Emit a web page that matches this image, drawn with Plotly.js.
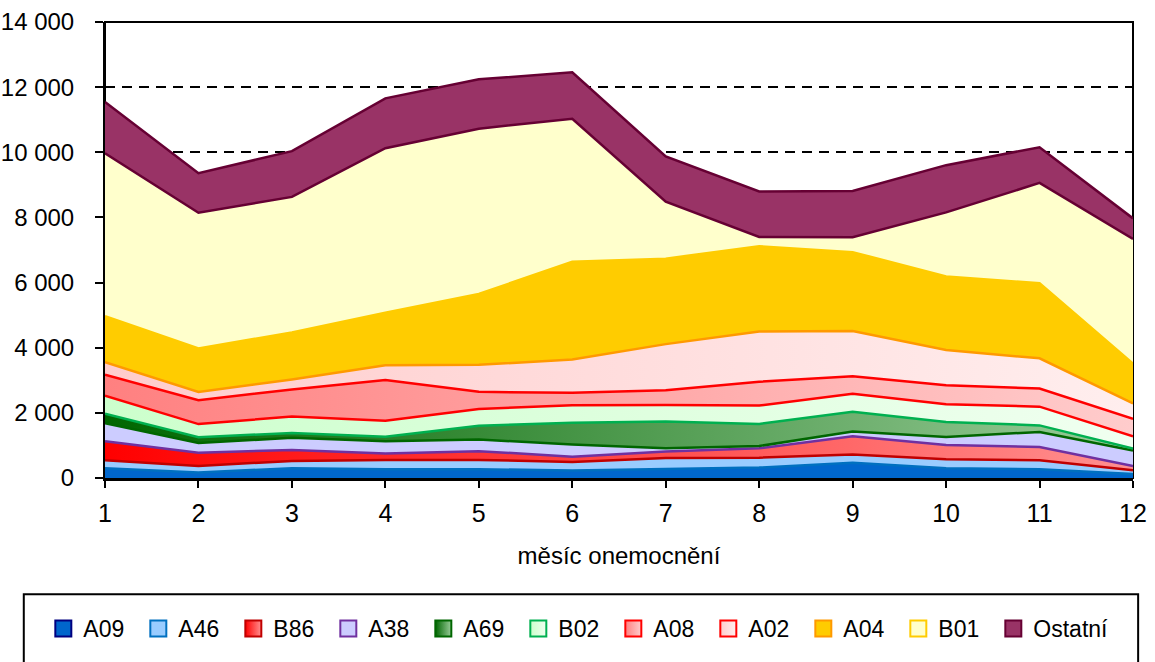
<!DOCTYPE html>
<html>
<head>
<meta charset="utf-8">
<script src="https://cdn.plot.ly/plotly-3.0.1.min.js"></script>
<style>
  html, body { margin: 0; padding: 0; background: #ffffff; }
  #chart { width: 1155px; height: 662px; }
</style>
</head>
<body>
<div id="chart"></div>
<script>
// Months (x axis)
const months = [1, 2, 3, 4, 5, 6, 7, 8, 9, 10, 11, 12];

// Series values (stacked from bottom to top)
const A09 = [300, 170, 300, 270, 270, 230, 280, 320, 470, 300, 270, 120];
const A46 = [245, 200, 225, 285, 285, 265, 335, 305, 255, 275, 275, 120];
const B86 = [585, 405, 335, 200, 270, 160, 200, 285, 555, 435, 405, 130];
const A38 = [555, 300, 375, 375, 355, 375, 100, 70, 150, 245, 465, 475];
const A69 = [285, 175, 150, 135, 425, 665, 820, 680, 605, 465, 200, 60];
const B02 = [555, 405, 505, 495, 515, 535, 505, 565, 555, 545, 575, 375];
const A08 = [645, 735, 830, 1245, 525, 385, 455, 730, 535, 585, 555, 535];
const A02 = [385, 250, 305, 455, 830, 1020, 1415, 1545, 1385, 1080, 930, 475];
const A04 = [1415, 1335, 1445, 1615, 2175, 3005, 2625, 2615, 2425, 2255, 2305, 1220];
const B01 = [5000, 4170, 4160, 5050, 5075, 4390, 1750, 285, 455, 1970, 3080, 3830];
const Ostatni = [1575, 1215, 1405, 1530, 1515, 1425, 1385, 1395, 1425, 1450, 1095, 630];

const seriesNames = ['A09', 'A46', 'B86', 'A38', 'A69', 'B02', 'A08', 'A02', 'A04', 'B01', 'Ostatní'];
const seriesValues = [A09, A46, B86, A38, A69, B02, A08, A02, A04, B01, Ostatni];

// Styles
const fillFrom = ['#0066cc', '#99ccff', '#ff0000', '#ccccff', '#006600', '#ccffcc', '#ff8080', '#ffcccc', '#ffcc00', '#ffffcc', '#993366'];
const fillTo   = ['#0066cc', '#99ccff', '#ff9090', '#ccccff', '#99cc99', '#f0fff0', '#ffcccc', '#ffeeee', '#ffcc00', '#ffffcc', '#993366'];
const borders  = ['#000080', '#0070c0', '#c00000', '#7030a0', '#006600', '#00b050', '#ff0000', '#ff0000', '#ff9900', '#ffcc00', '#660033'];

const FONT = '"Liberation Sans", Arial, sans-serif';

const traces = [];
seriesNames.forEach((name, i) => {
  const lineColor = i < seriesNames.length - 1 ? borders[i + 1] : borders[i];
  const t = {
    type: 'scatter',
    mode: 'lines',
    x: months,
    y: seriesValues[i],
    name: name,
    stackgroup: 'one',
    line: { color: lineColor, width: 2.5, shape: 'linear' },
    fillcolor: fillFrom[i],
    showlegend: false,
    hoverinfo: 'x+y+name'
  };
  if (fillFrom[i] !== fillTo[i]) {
    t.fillgradient = {
      type: 'horizontal',
      colorscale: [[0, fillFrom[i]], [1, fillTo[i]]]
    };
  }
  traces.push(t);
});

// Legend entries (square icons with border, like the original)
seriesNames.forEach((name, i) => {
  const m = {
    symbol: 'square',
    size: 16,
    color: fillFrom[i],
    line: { color: borders[i], width: 2 }
  };
  if (fillFrom[i] !== fillTo[i]) {
    m.gradient = { type: 'horizontal', color: fillTo[i] };
  }
  const lt = {
    type: 'scatter',
    mode: 'markers',
    x: [null],
    y: [null],
    name: name,
    marker: m,
    showlegend: true,
    hoverinfo: 'skip'
  };
  if (name === 'Ostatní') lt.legendwidth = 90;
  traces.push(lt);
});

const layout = {
  width: 1155,
  height: 662,
  margin: { l: 105, r: 22, t: 22, b: 178 },
  paper_bgcolor: '#ffffff',
  plot_bgcolor: '#ffffff',
  separators: ', ',
  font: { family: FONT, color: '#000000', size: 24 },
  showlegend: true,
  legend: {
    orientation: 'h',
    x: -0.06,
    xanchor: 'left',
    y: -0.33,
    yanchor: 'middle',
    font: { family: FONT, size: 23, color: '#000000' },
    entrywidth: 50,
    entrywidthmode: 'pixels',
    itemwidth: 30,
    traceorder: 'normal',
    bgcolor: 'rgba(0,0,0,0)',
    borderwidth: 0
  },
  xaxis: {
    range: [1, 12],
    tickmode: 'array',
    tickvals: months,
    ticktext: months.map(String),
    showgrid: false,
    zeroline: false,
    showline: true,
    linecolor: '#000000',
    linewidth: 3,
    ticks: 'outside',
    ticklen: 7,
    tickwidth: 2,
    tickcolor: '#000000',
    tickfont: { family: FONT, size: 25, color: '#000000' },
    ticklabelstandoff: 4,
    title: { text: 'měsíc onemocnění', font: { family: FONT, size: 24, color: '#000000' }, standoff: 22 },
    layer: 'above traces',
    fixedrange: true
  },
  yaxis: {
    range: [0, 14000],
    dtick: 2000,
    tick0: 0,
    separatethousands: true,
    tickformat: ',d',
    showgrid: true,
    gridcolor: '#000000',
    gridwidth: 2,
    griddash: '10px,7px',
    zeroline: false,
    showline: true,
    linecolor: '#000000',
    linewidth: 2,
    ticks: 'outside',
    ticklen: 8,
    tickwidth: 2,
    tickcolor: '#000000',
    tickfont: { family: FONT, size: 24, color: '#000000' },
    ticklabelstandoff: 16,
    layer: 'above traces',
    fixedrange: true
  },
  shapes: [
    {
      type: 'rect', xref: 'paper', yref: 'paper',
      x0: 0, x1: 1, y0: 0, y1: 1,
      line: { color: '#000000', width: 2 },
      fillcolor: 'rgba(0,0,0,0)',
      layer: 'below'
    },
    {
      type: 'rect', xref: 'paper', yref: 'paper',
      x0: -0.079, x1: 1.005, y0: -0.255, y1: -0.43,
      line: { color: '#000000', width: 2 },
      fillcolor: 'rgba(0,0,0,0)',
      layer: 'above'
    }
  ]
};

Plotly.newPlot('chart', traces, layout, { displayModeBar: false, staticPlot: true });
</script>
</body>
</html>
